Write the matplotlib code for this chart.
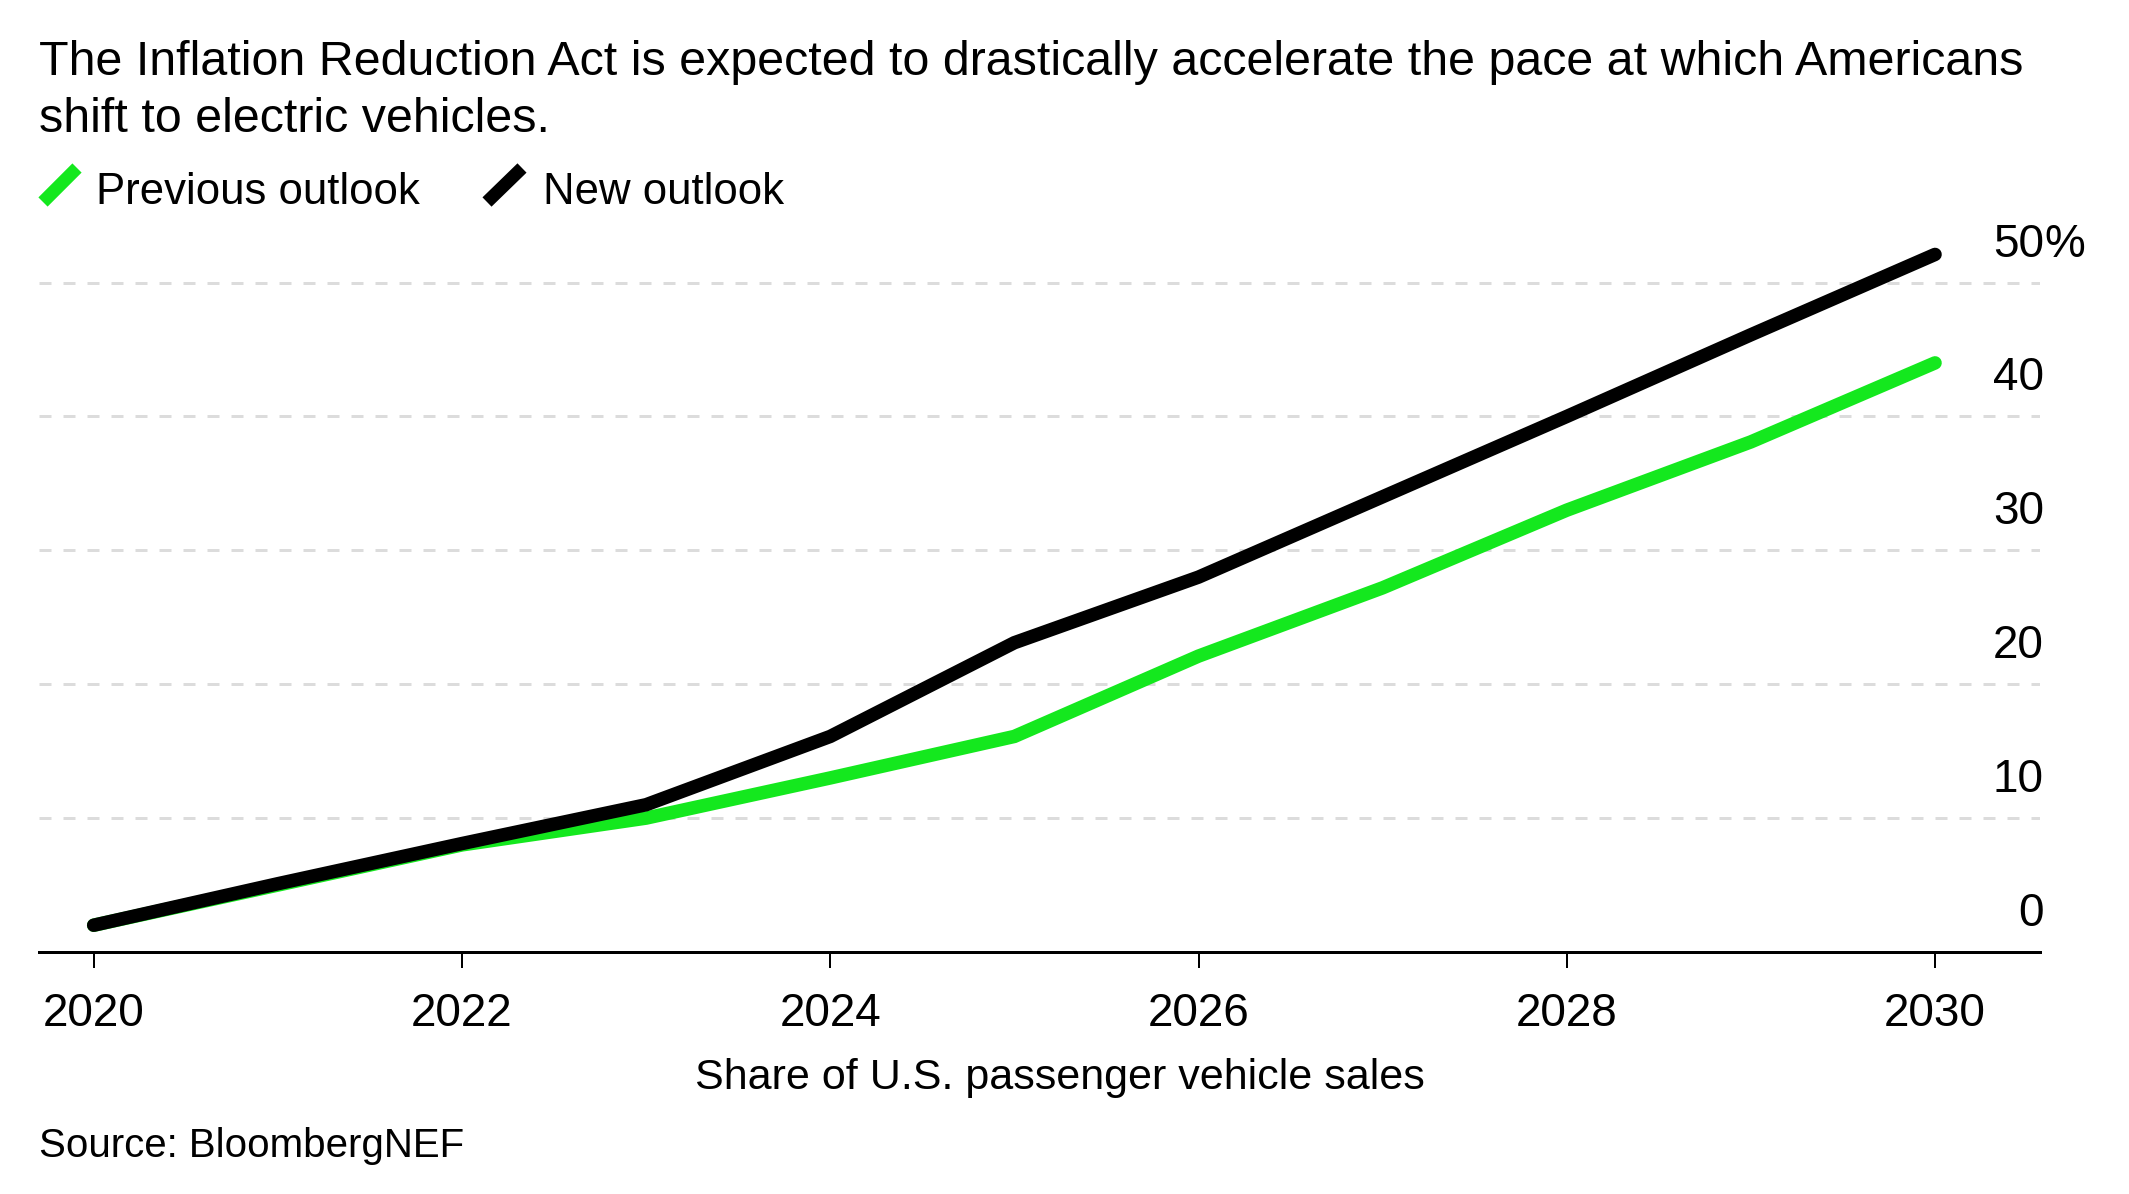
import matplotlib
matplotlib.use('Agg')
import matplotlib.pyplot as plt
from matplotlib.lines import Line2D
import matplotlib.transforms as mtransforms

# ---- data ----
years = list(range(2020, 2031))
previous_outlook = [2.0, 5.0, 8.0, 10.0, 13.0, 16.1, 22.1, 27.2, 33.0, 38.1, 44.0]
new_outlook = [2.0, 5.1, 8.1, 11.0, 16.1, 23.1, 28.0, 34.0, 40.0, 46.1, 52.1]
x_ticks = [2020, 2022, 2024, 2026, 2028, 2030]
y_ticks = [0, 10, 20, 30, 40, 50]
y_tick_labels = ['0', '10', '20', '30', '40', '50']
series_names = ['Previous outlook', 'New outlook']
series_colors = ['#14e81e', '#000000']
title_lines = ["The Inflation Reduction Act is expected to drastically accelerate the pace at which Americans",
               "shift to electric vehicles."]
x_label = "Share of U.S. passenger vehicle sales"
source = "Source: BloombergNEF"

plt.rcParams['font.family'] = ['Liberation Sans', 'DejaVu Sans']

W, H = 2129, 1194
fig = plt.figure(figsize=(W / 100, H / 100), dpi=100)
fig.patch.set_facecolor('white')

def fx(px):
    return px / W

def fy(py):
    return 1 - py / H

PX = 72 / 100  # points per pixel

ax = fig.add_axes([fx(39), fy(952), fx(2040) - fx(39), fy(229) - fy(952)])
ax.set_xlim(2019.703, 2030.570)
ax.set_ylim(0, 54)

# grid
ax.set_yticks(y_ticks)
ax.yaxis.grid(True, color='#dcdcdc', linewidth=3 * PX, linestyle=(0, (4, 4)))
ax.tick_params(axis='y', left=False, right=False, labelleft=False)
ax.set_axisbelow(True)

for sp in ['top', 'right', 'left']:
    ax.spines[sp].set_visible(False)
ax.spines['bottom'].set_linewidth(3 * PX)
ax.spines['bottom'].set_color('black')

ax.set_xticks(x_ticks)
ax.set_xticklabels([str(t) for t in x_ticks])
ax.tick_params(axis='x', direction='out', length=16 * PX, width=2 * PX,
               color='black', labelsize=33, pad=17, labelcolor='black')

# lines
ax.plot(years, previous_outlook, color=series_colors[0], lw=13.5 * PX,
        solid_capstyle='round', solid_joinstyle='miter', clip_on=False, zorder=3)
ax.plot(years, new_outlook, color=series_colors[1], lw=13.5 * PX,
        solid_capstyle='round', solid_joinstyle='miter', clip_on=False, zorder=4)

# y labels, right side above gridlines
trans = mtransforms.blended_transform_factory(ax.transAxes, ax.transData)
trans = mtransforms.offset_copy(trans, fig=fig, x=0, y=26 * PX, units='points')
x_lab = (2044 - 39) / (2040 - 39)
for v, lab in zip(y_ticks, y_tick_labels):
    ax.text(x_lab, v, lab, transform=trans, ha='right', va='baseline',
            fontsize=33, color='black', clip_on=False)
ax.text(x_lab, y_ticks[-1], '%', transform=trans, ha='left', va='baseline',
        fontsize=33, color='black', clip_on=False)

# title
fig.text(fx(39), fy(75), title_lines[0], ha='left', va='baseline', fontsize=34.8, color='black')
fig.text(fx(39), fy(132), title_lines[1], ha='left', va='baseline', fontsize=34.8, color='black')

# legend
leg_marks = [(43, 77), (487, 522)]
leg_text_x = [96, 543]
for (x0, x1), tx, name, col in zip(leg_marks, leg_text_x, series_names, series_colors):
    fig.add_artist(Line2D([fx(x0), fx(x1)], [fy(202), fy(168)], transform=fig.transFigure,
                          color=col, lw=13 * PX, solid_capstyle='butt'))
    fig.text(fx(tx), fy(204), name, ha='left', va='baseline', fontsize=31.5, color='black')

# x label & source
fig.text(fx(1060), fy(1089), x_label, ha='center', va='baseline', fontsize=31, color='black')
fig.text(fx(39), fy(1157), source, ha='left', va='baseline', fontsize=29, color='black')

fig.savefig('out.png', dpi=100, facecolor='white')
